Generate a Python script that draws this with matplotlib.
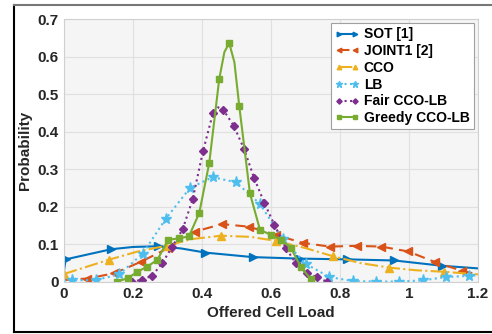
import numpy as np
import matplotlib
matplotlib.use("Agg")
import matplotlib.pyplot as plt
from matplotlib.lines import Line2D

plt.rcParams['font.family'] = ['Liberation Sans', 'DejaVu Sans']
plt.rcParams['font.weight'] = 'bold'

# SOT [1]
sot_x = [0.0, 0.005, 0.137, 0.2, 0.274, 0.34, 0.41, 0.547, 0.684, 0.821, 0.958, 1.095, 1.2]
sot_y = [0.03, 0.06, 0.087, 0.093, 0.095, 0.089, 0.078, 0.066, 0.062, 0.060, 0.057, 0.043, 0.036]
sot_mk = [1, 2, 4, 6, 7, 8, 9, 10, 11]

# JOINT1 [2]
j1_x = [0.0, 0.068, 0.146, 0.224, 0.302, 0.38, 0.458, 0.536, 0.614, 0.692, 0.77, 0.848, 0.92, 0.998, 1.075, 1.155, 1.2]
j1_y = [0.005, 0.009, 0.023, 0.054, 0.09, 0.134, 0.154, 0.147, 0.125, 0.104, 0.094, 0.096, 0.094, 0.081, 0.053, 0.029, 0.02]
j1_mk = list(range(1, 16))

# CCO
cco_x = [0.0, 0.13, 0.21, 0.295, 0.37, 0.455, 0.54, 0.616, 0.7, 0.781, 0.86, 0.943, 1.02, 1.101, 1.2]
cco_y = [0.021, 0.059, 0.08, 0.096, 0.114, 0.123, 0.12, 0.109, 0.09, 0.068, 0.05, 0.038, 0.031, 0.027, 0.02]
cco_mk = [0, 1, 3, 5, 7, 9, 11, 13]

# LB
lb_x = [0.0, 0.024, 0.092, 0.16, 0.228, 0.295, 0.365, 0.431, 0.499, 0.568, 0.634, 0.701, 0.769,
        0.838, 0.905, 0.972, 1.04, 1.107, 1.175, 1.2]
lb_y = [0.003, 0.004, 0.005, 0.02, 0.075, 0.168, 0.25, 0.279, 0.265, 0.208, 0.114, 0.048, 0.013,
        0.002, 0.001, 0.001, 0.004, 0.013, 0.016, 0.018]
lb_mk = list(range(1, 19))

# Fair CCO-LB
fair_x = [0.196, 0.225, 0.256, 0.285, 0.314, 0.344, 0.373, 0.403, 0.432, 0.447, 0.462, 0.492, 0.522,
          0.551, 0.581, 0.61, 0.643, 0.672, 0.703, 0.732, 0.761]
fair_y = [0.001, 0.005, 0.017, 0.05, 0.094, 0.14, 0.22, 0.348, 0.45, 0.465, 0.458, 0.416, 0.354,
          0.277, 0.21, 0.152, 0.09, 0.05, 0.023, 0.013, 0.001]
fair_mk = [0, 1, 2, 3, 4, 5, 6, 7, 8, 10, 11, 12, 13, 14, 15, 16, 17, 18, 19, 20]

# Greedy CCO-LB
gr_x = [0.155, 0.185, 0.213, 0.242, 0.271, 0.302, 0.333, 0.362, 0.392, 0.421, 0.45, 0.465, 0.479,
        0.494, 0.508, 0.539, 0.568, 0.6, 0.629, 0.658, 0.687, 0.716]
gr_y = [0.001, 0.01, 0.027, 0.041, 0.059, 0.112, 0.116, 0.121, 0.183, 0.316, 0.54, 0.612, 0.636,
        0.585, 0.469, 0.236, 0.139, 0.125, 0.112, 0.09, 0.039, 0.007]
gr_mk = [0, 1, 2, 3, 4, 5, 6, 7, 8, 9, 10, 12, 14, 15, 16, 17, 18, 19, 20, 21]

fig = plt.figure(figsize=(4.92, 3.34), dpi=100)
ax = fig.add_axes([0.130, 0.156, 0.8415, 0.787])
ax.set_facecolor('#f5f5f5')

ax.plot(sot_x, sot_y, color='#0072BD', lw=1.5, ls='-', marker='>', ms=5.5, markevery=sot_mk, label='SOT [1]')
ax.plot(j1_x, j1_y, color='#D95319', lw=1.5, ls=(0, (5, 3)), marker='<', ms=5.5, markevery=j1_mk, label='JOINT1 [2]')
ax.plot(cco_x, cco_y, color='#EDB120', lw=1.5, ls='-.', marker='^', ms=5.5, markevery=cco_mk, label='CCO')
ax.plot(lb_x, lb_y, color='#4DBEEE', lw=1.5, ls=':', marker='*', ms=8, markevery=lb_mk, label='LB')
ax.plot(fair_x, fair_y, color='#7E2F8E', lw=1.5, ls=':', marker='D', ms=4.5, markevery=fair_mk, label='Fair CCO-LB')
ax.plot(gr_x, gr_y, color='#77AC30', lw=1.5, ls='-', marker='s', ms=4.2, markevery=gr_mk, label='Greedy CCO-LB')

ax.set_xlim(0, 1.2)
ax.set_ylim(0, 0.7)
ax.set_xticks([0, 0.2, 0.4, 0.6, 0.8, 1.0, 1.2])
ax.set_xticklabels(['0', '0.2', '0.4', '0.6', '0.8', '1', '1.2'])
ax.set_yticks(np.arange(0, 0.71, 0.1))
ax.set_yticklabels(['0', '0.1', '0.2', '0.3', '0.4', '0.5', '0.6', '0.7'])
ax.grid(True, color='#e0e0e0', lw=0.8)
ax.set_axisbelow(True)
for s in ax.spines.values():
    s.set_color('#d0d0d0')
ax.tick_params(labelsize=11, colors='#262626', length=0, pad=4)
for t in ax.get_xticklabels() + ax.get_yticklabels():
    t.set_fontweight('bold')
ax.set_xlabel('Offered Cell Load', fontsize=11, fontweight='bold', color='#262626', labelpad=3)
ax.set_ylabel('Probability', fontsize=11, fontweight='bold', color='#262626', labelpad=4)

leg = ax.legend(loc='upper right', handlelength=1.75, labelspacing=0.2, numpoints=2, markerscale=0.6,
                borderpad=0.3, handletextpad=0.3, borderaxespad=0.3, fancybox=False,
                framealpha=1, edgecolor='#a0a0a0', prop={'weight': 'bold', 'size': 10})
leg.get_frame().set_linewidth(0.8)

# figure frame
fig.add_artist(Line2D([14/492, 14/492], [1 - 5/334, 1 - 332/334], transform=fig.transFigure, color='black', lw=1.5))
fig.add_artist(Line2D([14/492, 1], [1 - 332/334, 1 - 332/334], transform=fig.transFigure, color='black', lw=1.5))
fig.add_artist(Line2D([14/492, 1], [1 - 5/334, 1 - 5/334], transform=fig.transFigure, color='#777777', lw=1.5))

fig.savefig('out.png', dpi=100)
